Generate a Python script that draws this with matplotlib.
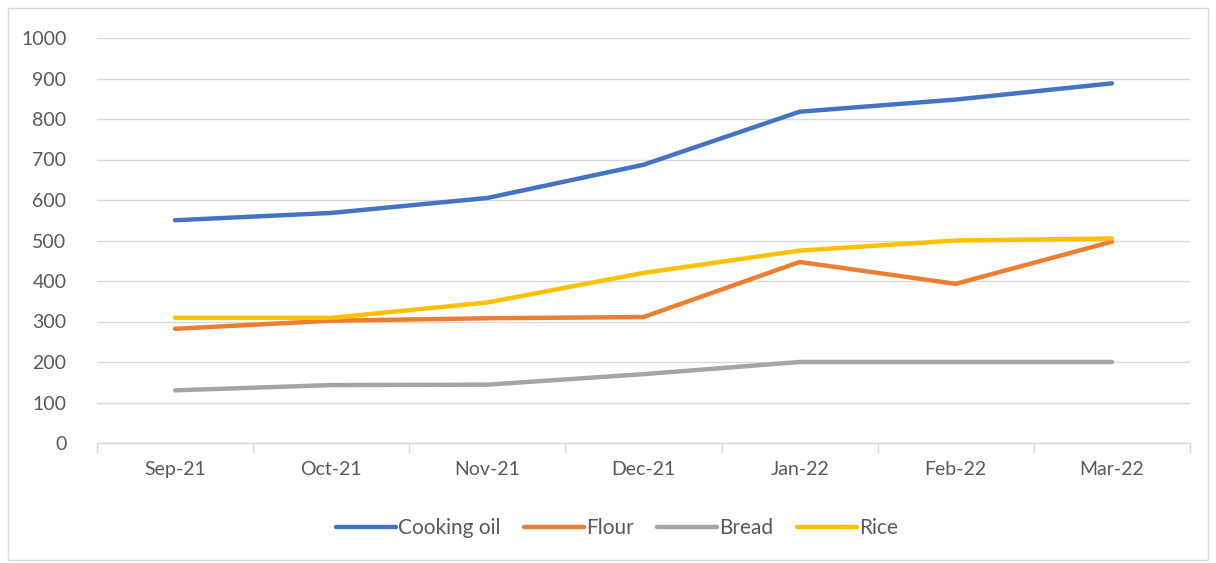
import matplotlib
matplotlib.use("Agg")
import matplotlib.pyplot as plt
from matplotlib.patches import Rectangle
from matplotlib.ticker import FixedLocator

months = ["Sep-21", "Oct-21", "Nov-21", "Dec-21", "Jan-22", "Feb-22", "Mar-22"]
cooking_oil = [550, 568, 605, 687, 818, 848, 888]
flour = [282, 302, 308, 311, 447, 393, 497]
bread = [130, 143, 144, 170, 200, 200, 200]
rice = [309, 309, 347, 420, 475, 500, 505]

series = [
    ("Cooking oil", cooking_oil, "#4472C4"),
    ("Flour", flour, "#ED7D31"),
    ("Bread", bread, "#A5A5A5"),
    ("Rice", rice, "#FFC000"),
]

plt.rcParams['font.family'] = ['Lato', 'DejaVu Sans']

W, H = 1216, 563
fig = plt.figure(figsize=(W / 100, H / 100), dpi=100)
ax = fig.add_axes([97 / W, 1 - 443 / H, (1190 - 97) / W, (443 - 38) / H])

x = list(range(len(months)))
for name, vals, col in series:
    ax.plot(x, vals, color=col, lw=3.2, solid_capstyle='round',
            solid_joinstyle='round', label=name)

ax.set_xlim(-0.5, len(months) - 0.5)
ax.set_ylim(0, 1000)
ax.set_yticks(range(0, 1001, 100))
ax.set_xticks(x)
ax.set_xticklabels(months)
ax.xaxis.set_minor_locator(FixedLocator([i - 0.5 for i in range(len(months) + 1)]))
ax.tick_params(axis='x', which='major', length=0, pad=13, labelsize=14, labelcolor='#595959')
ax.tick_params(axis='x', which='minor', length=7, width=1, color='#d9d9d9')
ax.tick_params(axis='y', length=0, pad=22, labelsize=14, labelcolor='#595959')
ax.grid(axis='y', color='#d9d9d9', lw=1)
ax.set_axisbelow(True)
for s in ['top', 'right', 'left']:
    ax.spines[s].set_visible(False)
ax.spines['bottom'].set_color('#d9d9d9')
ax.spines['bottom'].set_linewidth(1)

leg = fig.legend(loc='center', bbox_to_anchor=(617 / W, 1 - 528 / H), ncol=4,
                 frameon=False, fontsize=15, handlelength=2.9, handletextpad=0.1,
                 columnspacing=1.1, labelcolor='#595959')

fig.patches.append(Rectangle((8 / W, 3 / H), (1208 - 8) / W, (555 - 3) / H,
                             transform=fig.transFigure, fill=False,
                             edgecolor='#d9d9d9', lw=1))

fig.savefig("out.png", dpi=100)
